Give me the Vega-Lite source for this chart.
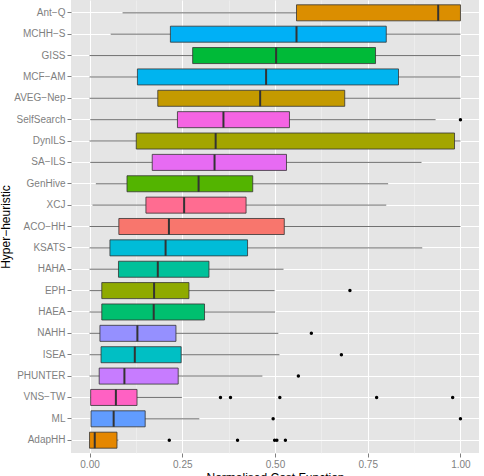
{
  "$schema": "https://vega.github.io/schema/vega-lite/v6.json",
  "autosize": {"type": "none"},
  "padding": {"left": 71, "top": 0, "right": 5, "bottom": 23},
  "width": 408,
  "height": 453,
  "background": "white",
  "config": {
    "view": {"fill": "#E5E5E5", "stroke": null},
    "font": "Liberation Sans"
  },
  "datasets": {
    "boxes": [
      {"name": "Ant−Q", "lo": 0.089, "q1": 0.558, "med": 0.94, "q3": 1.0, "hi": 1.0},
      {"name": "MCHH−S", "lo": 0.057, "q1": 0.218, "med": 0.558, "q3": 0.8, "hi": 1.0},
      {"name": "GISS", "lo": 0.0, "q1": 0.278, "med": 0.503, "q3": 0.771, "hi": 1.0},
      {"name": "MCF−AM", "lo": 0.0, "q1": 0.129, "med": 0.476, "q3": 0.833, "hi": 1.0},
      {"name": "AVEG−Nep", "lo": 0.0, "q1": 0.184, "med": 0.46, "q3": 0.688, "hi": 1.0},
      {"name": "SelfSearch", "lo": 0.002, "q1": 0.237, "med": 0.361, "q3": 0.539, "hi": 0.933},
      {"name": "DynILS", "lo": 0.0, "q1": 0.126, "med": 0.34, "q3": 0.984, "hi": 1.0},
      {"name": "SA−ILS", "lo": 0.002, "q1": 0.169, "med": 0.337, "q3": 0.531, "hi": 0.895},
      {"name": "GenHive", "lo": 0.017, "q1": 0.101, "med": 0.294, "q3": 0.44, "hi": 0.805},
      {"name": "XCJ", "lo": 0.008, "q1": 0.152, "med": 0.255, "q3": 0.422, "hi": 0.8},
      {"name": "ACO−HH", "lo": 0.0, "q1": 0.079, "med": 0.214, "q3": 0.525, "hi": 1.0},
      {"name": "KSATS", "lo": 0.0, "q1": 0.055, "med": 0.205, "q3": 0.426, "hi": 0.897},
      {"name": "HAHA", "lo": 0.0, "q1": 0.078, "med": 0.184, "q3": 0.322, "hi": 0.523},
      {"name": "EPH", "lo": 0.0, "q1": 0.033, "med": 0.174, "q3": 0.268, "hi": 0.499},
      {"name": "HAEA", "lo": 0.0, "q1": 0.033, "med": 0.173, "q3": 0.31, "hi": 0.5},
      {"name": "NAHH", "lo": 0.0, "q1": 0.028, "med": 0.129, "q3": 0.233, "hi": 0.509},
      {"name": "ISEA", "lo": 0.0, "q1": 0.031, "med": 0.122, "q3": 0.247, "hi": 0.512},
      {"name": "PHUNTER", "lo": 0.0, "q1": 0.026, "med": 0.094, "q3": 0.239, "hi": 0.466},
      {"name": "VNS−TW", "lo": 0.003, "q1": 0.003, "med": 0.071, "q3": 0.128, "hi": 0.249},
      {"name": "ML", "lo": 0.004, "q1": 0.004, "med": 0.065, "q3": 0.15, "hi": 0.296},
      {"name": "AdapHH", "lo": 0.0, "q1": 0.0, "med": 0.014, "q3": 0.074, "hi": 0.078}
    ],
    "outliers": [
      {"name": "SelfSearch", "v": 1.0},
      {"name": "EPH", "v": 0.702},
      {"name": "NAHH", "v": 0.598},
      {"name": "ISEA", "v": 0.679},
      {"name": "PHUNTER", "v": 0.563},
      {"name": "VNS−TW", "v": 0.353},
      {"name": "VNS−TW", "v": 0.38},
      {"name": "VNS−TW", "v": 0.513},
      {"name": "VNS−TW", "v": 0.774},
      {"name": "VNS−TW", "v": 0.979},
      {"name": "ML", "v": 0.495},
      {"name": "ML", "v": 1.0},
      {"name": "AdapHH", "v": 0.215},
      {"name": "AdapHH", "v": 0.399},
      {"name": "AdapHH", "v": 0.499},
      {"name": "AdapHH", "v": 0.505},
      {"name": "AdapHH", "v": 0.528}
    ]
  },
  "layer": [
    {
      "data": {"name": "boxes"},
      "mark": {"type": "rule", "color": "#333333", "strokeWidth": 0.7},
      "encoding": {
        "y": {
          "field": "name", "type": "nominal",
          "scale": {"type": "band", "paddingInner": 0.25, "paddingOuter": 0.225,
            "domain": ["Ant−Q","MCHH−S","GISS","MCF−AM","AVEG−Nep","SelfSearch","DynILS","SA−ILS","GenHive","XCJ","ACO−HH","KSATS","HAHA","EPH","HAEA","NAHH","ISEA","PHUNTER","VNS−TW","ML","AdapHH"]},
          "axis": {
            "title": "Hyper−heuristic", "titleFontSize": 12, "titleFontWeight": "normal", "titleColor": "#000000", "titlePadding": 1,
            "labelColor": "#7F7F7F", "labelFontSize": 10, "labelPadding": 2,
            "tickColor": "#7F7F7F", "tickSize": 4, "domain": false,
            "grid": true, "gridColor": "#FFFFFF", "gridWidth": 1, "bandPosition": 0.5
          }
        },
        "x": {
          "field": "lo", "type": "quantitative",
          "scale": {"domain": [-0.05, 1.05], "nice": false, "zero": false},
          "axis": {
            "orient": "top", "values": [0.125, 0.375, 0.625, 0.875],
            "labels": false, "ticks": false, "domain": false, "title": null,
            "grid": true, "gridColor": "#F2F2F2", "gridWidth": 0.6
          }
        },
        "x2": {"field": "hi"}
      }
    },
    {
      "data": {"name": "boxes"},
      "mark": {"type": "bar", "stroke": "#333333", "strokeWidth": 0.8, "opacity": 1},
      "encoding": {
        "y": {"field": "name", "type": "nominal"},
        "x": {
          "field": "q1", "type": "quantitative",
          "axis": {
            "orient": "bottom", "values": [0, 0.25, 0.5, 0.75, 1], "format": ".2f",
            "title": "Normalised Cost Function", "titleFontSize": 12, "titleFontWeight": "normal", "titleColor": "#000000", "titlePadding": 3,
            "labelColor": "#7F7F7F", "labelFontSize": 10, "labelPadding": 2,
            "tickColor": "#7F7F7F", "tickSize": 4, "domain": false,
            "grid": true, "gridColor": "#FFFFFF", "gridWidth": 1
          }
        },
        "x2": {"field": "q3"},
        "fill": {
          "field": "name", "type": "nominal", "legend": null,
          "scale": {
            "domain": ["Ant−Q","MCHH−S","GISS","MCF−AM","AVEG−Nep","SelfSearch","DynILS","SA−ILS","GenHive","XCJ","ACO−HH","KSATS","HAHA","EPH","HAEA","NAHH","ISEA","PHUNTER","VNS−TW","ML","AdapHH"],
            "range": ["#DB8E00","#00B0F6","#00BA38","#00B4EF","#C49A00","#F564E3","#A3A500","#E76BF3","#53B400","#FF6C91","#F8766D","#00BCD8","#00C19A","#8FAA00","#00BF6F","#9590FF","#00BFC4","#C77CFF","#FF61C3","#619CFF","#E58700"]
          }
        }
      }
    },
    {
      "data": {"name": "boxes"},
      "mark": {"type": "tick", "color": "#333333", "thickness": 2, "size": 16, "opacity": 1},
      "encoding": {
        "y": {"field": "name", "type": "nominal"},
        "x": {"field": "med", "type": "quantitative", "axis": null}
      }
    },
    {
      "data": {"name": "outliers"},
      "mark": {"type": "circle", "color": "#000000", "size": 12, "opacity": 1},
      "encoding": {
        "y": {"field": "name", "type": "nominal"},
        "x": {"field": "v", "type": "quantitative", "axis": null}
      }
    }
  ],
  "resolve": {"axis": {"x": "independent"}}
}
